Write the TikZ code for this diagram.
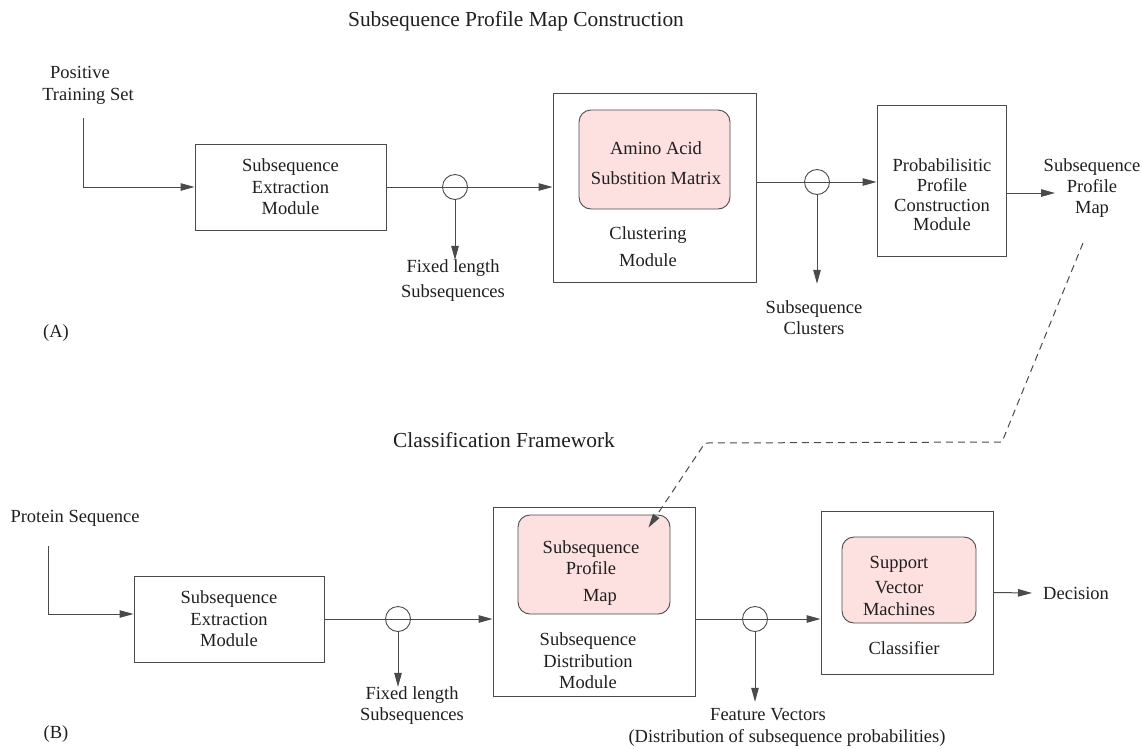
\documentclass[tikz,border=0pt]{standalone}
\usepackage{fontspec}
\setmainfont{Liberation Serif}
\usetikzlibrary{arrows.meta}
\definecolor{ln}{HTML}{4A4A4A}
\definecolor{pk}{HTML}{FDE0E0}
\newcommand{\fs}[1]{\fontsize{18.5}{#1}\selectfont}
\begin{document}
\begin{tikzpicture}[x=1pt,y=-1pt,
  every node/.style={font=\fs{21.5}, text=black!88, inner sep=0pt},
  box/.style={draw=ln, line width=1pt, rectangle},
  pinkbox/.style={draw=ln, line width=0.9pt, fill=pk, rounded corners=12pt},
  lbl/.style={align=center},
  ttl/.style={font=\fontsize{21.4}{25}\selectfont},
  junc/.style={draw=ln, line width=0.9pt, circle, minimum size=25pt},
  conn/.style={draw=ln, line width=1pt},
  arr/.style={conn, -{Triangle[length=14pt,width=7.5pt]}},
  dashedconn/.style={arr, dash pattern=on 7pt off 5pt}
]
\useasboundingbox (0,0) rectangle (1142,748);
% ---------- (A) ----------
\node[ttl] (t1) at (516,21) {Subsequence Profile Map Construction};
\node[lbl, font=\fs{22}] (pos) at (88,85) {Positive\hspace*{16pt}\\Training Set};
\coordinate (pin1) at (83,118);
\node[box, lbl, minimum width=191pt, minimum height=86pt] (b1) at (290.5,187) {Subsequence\\Extraction\\Module};
\node[junc] (c1) at (455,187) {};
\node[box, minimum width=203pt, minimum height=189pt] (clus) at (654.5,187.5) {};
\node[pinkbox, minimum width=151pt, minimum height=99pt] (pk1) at (654.5,159.5) {};
\node[lbl, font=\fs{30}] (pk1t) at (656,163) {Amino Acid\\Substition Matrix};
\node[lbl, font=\fs{27}] (clust) at (648,246.5) {Clustering\\Module};
\node[lbl, font=\fs{25}] (fx1) at (453,281) {Fixed length\\Subsequences};
\node[junc] (c2) at (817,182) {};
\node[box, minimum width=129pt, minimum height=151pt] (prob) at (941.5,180.5) {};
\node[lbl, font=\fs{19.7}] (probt) at (942,195) {Probabilisitic\\Profile\\Construction\\Module};
\coordinate (spmin) at (1055,193);
\node[lbl, font=\fs{21}] (spm) at (1092,188) {Subsequence\\Profile\\Map};
\node[lbl, font=\fs{21}] (clu) at (814,318) {Subsequence\\Clusters};
\node (A) at (56,333) {(A)};

\draw[arr] (pin1) |- (b1.west);
\draw[arr] (b1.east) -- (clus.west |- b1.east);
\draw[arr] (c1.south) -- (c1.south |- fx1.north);
\draw[arr] (clus.east |- c2) -- (prob.west |- c2);
\draw[arr] (c2.south) -- ([yshift=17pt]c2.south |- clu.north);
\draw[arr] (prob.east |- spmin) -- (spmin);

% ---------- (B) ----------
\node[ttl] (t2) at (504,440) {Classification Framework};
\node (ps) at (75,518) {Protein Sequence};
\coordinate (pin2) at (48,546);
\node[box, lbl, minimum width=190pt, minimum height=86pt] (b2) at (229,619) {Subsequence\\Extraction\\Module};
\node[junc] (c3) at (398,619) {};
\node[lbl, font=\fs{21}] (fx2) at (412,706) {Fixed length\\Subsequences};
\node[box, minimum width=202pt, minimum height=189pt] (dist) at (594,601.5) {};
\node[pinkbox, minimum width=152pt, minimum height=99pt] (pk2) at (594,564.5) {};
\node[lbl, font=\fs{21}] (pk2t) at (591,573) {Subsequence\\Profile\\[6pt]\hspace*{18pt}Map};
\node[lbl, font=\fs{21.5}] (distt) at (588,661) {Subsequence\\Distribution\\Module};
\node[junc] (c4) at (755,619) {};
\node[box, minimum width=172pt, minimum height=163pt] (cls) at (907,592.5) {};
\node[pinkbox, minimum width=134pt, minimum height=86pt] (pk3) at (909,580) {};
\node[lbl, font=\fs{22}] (pk3t) at (899,586) {Support\\[3pt]Vector\\Machines};
\node (clst) at (904,648) {Classifier};
\node[anchor=west] (dec) at (1043,593) {Decision};
\node[lbl, font=\fs{22}] (fv) at (787,727) {Feature Vectors\hspace*{38pt}\\(Distribution of subsequence probabilities)};
\node (B) at (56,734) {(B)};

\draw[arr] (pin2) |- ([yshift=5pt]b2.west);
\draw[arr] (b2.east) -- (dist.west |- b2.east);
\draw[arr] (c3.south) -- (c3.south |- fx2.north);
\draw[arr] (dist.east |- c4) -- (cls.west |- c4);
\draw[arr] (c4.south) -- ([yshift=6pt]c4.south |- fv.north);
\draw[arr] (cls.east) -- ([xshift=-11pt]dec.west);

% dashed link
\coordinate (d1) at (1083,243);
\coordinate (d2) at (1002,442);
\coordinate (d3) at (705,443);
\draw[dashedconn] (d1) -- (d2) -- (d3) -- ([xshift=-22pt,yshift=-13pt]pk2.north east);
\end{tikzpicture}
\end{document}
